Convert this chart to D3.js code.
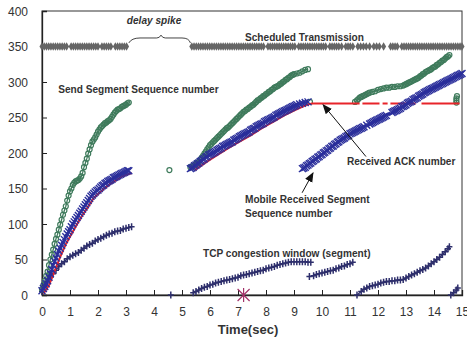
<!DOCTYPE html>
<html>
<head>
<meta charset="utf-8">
<script src="https://cdn.jsdelivr.net/npm/d3@7"></script>
<style>
  body { margin: 0; background: #fff; }
  svg { display: block; font-family: "Liberation Sans", Arial, sans-serif; }
  .axis text { font-size: 12px; fill: #333; }
  .axis path, .axis line { stroke: #222; }
  .label { font-size: 10.1px; font-weight: bold; fill: #333; }
</style>
</head>
<body>
<script>
// time (sec) of scheduled transmissions, all at level 350
const schedX = [0, 0.08, 0.16, 0.24, 0.32, 0.4, 0.48, 0.56, 0.64, 0.72, 0.8, 0.88,
  1.04, 1.12, 1.2, 1.28, 1.36, 1.44, 1.52, 1.6, 1.68, 1.76, 1.84, 1.92, 2.0,
  2.14, 2.22, 2.3, 2.38, 2.46, 2.62, 2.7, 2.78, 2.86, 2.94, 3.02,
  5.35, 5.43, 5.51, 5.59, 5.67, 5.75, 5.83, 5.91, 5.99, 6.07, 6.15, 6.23, 6.31, 6.39,
  6.47, 6.55, 6.63, 6.71, 6.79, 6.87, 6.95, 7.03, 7.11, 7.19, 7.27, 7.35, 7.43, 7.51,
  7.59, 7.67, 7.75, 7.83, 7.91, 8.07, 8.15, 8.23, 8.31, 8.39, 8.47, 8.55, 8.63,
  8.71, 8.79, 8.87, 8.95, 9.03, 9.17, 9.25, 9.33, 9.41, 9.49, 9.57, 9.65, 9.73,
  9.81, 9.89, 9.97, 10.05, 10.13, 10.28, 10.36, 10.44, 10.52, 10.6, 10.7, 10.85,
  10.93, 11.01, 11.1, 11.28, 11.38, 11.48, 11.58, 11.7, 11.85, 11.95, 12.05,
  12.2, 12.45, 12.53, 12.61, 12.69, 12.85, 12.93, 13.01, 13.09, 13.17, 13.25,
  13.33, 13.41, 13.49, 13.57, 13.65, 13.73, 13.81, 13.89, 13.97, 14.05, 14.13,
  14.21, 14.29, 14.37, 14.45, 14.53, 14.61, 14.69, 14.77, 14.85, 14.93, 15.0]
const schedLevel = 350

// Send Segment Sequence number (green circles), one array per burst
const sendSeq = [
  [[0, 8], [0.05, 14], [0.1, 20], [0.15, 27], [0.2, 33], [0.25, 42], [0.3, 50], [0.35, 57],
   [0.4, 64], [0.45, 72], [0.5, 79], [0.55, 85], [0.6, 92], [0.65, 99], [0.7, 106],
   [0.75, 113], [0.8, 119], [0.85, 125], [0.9, 133], [0.95, 140], [1.0, 146], [1.05, 150],
   [1.1, 155], [1.15, 158], [1.2, 160], [1.25, 161], [1.3, 162], [1.35, 164], [1.4, 167],
   [1.45, 172], [1.5, 180], [1.55, 186], [1.6, 192], [1.65, 199], [1.7, 205], [1.75, 211],
   [1.8, 216], [1.85, 219], [1.9, 222], [1.95, 226], [2.0, 230], [2.05, 233], [2.1, 236],
   [2.15, 238], [2.2, 240], [2.25, 242], [2.3, 243], [2.35, 245], [2.4, 246], [2.45, 248],
   [2.5, 251], [2.55, 254], [2.6, 257], [2.65, 259], [2.7, 261], [2.75, 262], [2.8, 263],
   [2.85, 265], [2.9, 266], [2.95, 267], [3.0, 268], [3.05, 270], [3.1, 271]],
  [[4.55, 176]],
  [[5.3, 180], [5.35, 181], [5.4, 182], [5.45, 183], [5.5, 185], [5.55, 186], [5.6, 188],
   [5.65, 190], [5.7, 193], [5.75, 196], [5.8, 199], [5.85, 202], [5.9, 205], [5.95, 208],
   [6.0, 211], [6.05, 213], [6.1, 215], [6.15, 217], [6.2, 219], [6.25, 221], [6.3, 223],
   [6.35, 225], [6.4, 227], [6.45, 229], [6.5, 231], [6.55, 233], [6.6, 235], [6.65, 236],
   [6.7, 238], [6.75, 240], [6.8, 242], [6.85, 244], [6.9, 246], [6.95, 248], [7.0, 250],
   [7.05, 252], [7.1, 254], [7.15, 256], [7.2, 258], [7.25, 259], [7.3, 261], [7.35, 262],
   [7.4, 264], [7.45, 265], [7.5, 267], [7.55, 268], [7.6, 270], [7.65, 272], [7.7, 274],
   [7.75, 275], [7.8, 277], [7.85, 278], [7.9, 280], [7.95, 281], [8.0, 283], [8.05, 284],
   [8.1, 286], [8.15, 287], [8.2, 289], [8.25, 290], [8.3, 292], [8.35, 293], [8.4, 294],
   [8.45, 295], [8.5, 297], [8.55, 298], [8.6, 300], [8.65, 301], [8.7, 303], [8.75, 304],
   [8.8, 306], [8.85, 307], [8.9, 309], [8.95, 310], [9.0, 311], [9.1, 312], [9.2, 313],
   [9.3, 315], [9.4, 317], [9.5, 318]],
  [[9.57, 272]],
  [[11.18, 272], [11.25, 274], [11.3, 276], [11.35, 278], [11.4, 279], [11.45, 280],
   [11.5, 281], [11.55, 282], [11.6, 283], [11.65, 284], [11.7, 285], [11.8, 286],
   [11.9, 287], [12.0, 289], [12.1, 290], [12.2, 291], [12.3, 292], [12.4, 292],
   [12.5, 293], [12.6, 293], [12.7, 294], [12.8, 294], [12.9, 295], [12.95, 296],
   [13.0, 297], [13.05, 298], [13.1, 299], [13.15, 300], [13.2, 301], [13.25, 302],
   [13.3, 303], [13.35, 304], [13.4, 305], [13.45, 306], [13.5, 308], [13.55, 309],
   [13.6, 311], [13.65, 312], [13.7, 314], [13.75, 315], [13.8, 316], [13.85, 317],
   [13.9, 318], [13.95, 320], [14.0, 321], [14.05, 322], [14.1, 324], [14.15, 325],
   [14.2, 327], [14.25, 328], [14.3, 330], [14.35, 331], [14.4, 333], [14.45, 335],
   [14.5, 336], [14.55, 338]],
  [[14.8, 271], [14.8, 274], [14.8, 277], [14.82, 280]]
]

// Mobile Received Segment Sequence number (blue crosses)
const recvSeq = [
  [[0, 6], [0.05, 9], [0.1, 12], [0.15, 16], [0.2, 20], [0.25, 25], [0.3, 30], [0.35, 36],
   [0.4, 42], [0.45, 47], [0.5, 52], [0.55, 57], [0.6, 62], [0.65, 66], [0.7, 70],
   [0.75, 74], [0.8, 78], [0.85, 82], [0.9, 86], [0.95, 89], [1.0, 92], [1.05, 96],
   [1.1, 100], [1.15, 103], [1.2, 106], [1.25, 109], [1.3, 112], [1.35, 115], [1.4, 118],
   [1.45, 121], [1.5, 124], [1.55, 127], [1.6, 130], [1.65, 133], [1.7, 136], [1.75, 139],
   [1.8, 141], [1.85, 143], [1.9, 145], [1.95, 147], [2.0, 148], [2.05, 150], [2.1, 152],
   [2.15, 154], [2.2, 155], [2.25, 157], [2.3, 158], [2.35, 160], [2.4, 161], [2.45, 162],
   [2.5, 163], [2.55, 165], [2.6, 166], [2.65, 167], [2.7, 168], [2.75, 169], [2.8, 170],
   [2.85, 171], [2.9, 172], [2.95, 173], [3.0, 174], [3.05, 175], [3.1, 175]],
  [[5.3, 178], [5.35, 179], [5.4, 180], [5.45, 182], [5.5, 183], [5.55, 185], [5.6, 186],
   [5.65, 188], [5.7, 189], [5.75, 191], [5.8, 192], [5.85, 194], [5.9, 195], [5.95, 197],
   [6.0, 198], [6.05, 199], [6.1, 200], [6.15, 201], [6.2, 202], [6.25, 204], [6.3, 205],
   [6.35, 206], [6.4, 207], [6.45, 209], [6.5, 210], [6.55, 211], [6.6, 212], [6.65, 213],
   [6.7, 214], [6.75, 215], [6.8, 216], [6.85, 218], [6.9, 219], [6.95, 220], [7.0, 221],
   [7.05, 223], [7.1, 224], [7.15, 225], [7.2, 226], [7.25, 227], [7.3, 228], [7.35, 229],
   [7.4, 230], [7.45, 232], [7.5, 233], [7.55, 234], [7.6, 235], [7.65, 237], [7.7, 238],
   [7.75, 239], [7.8, 240], [7.85, 241], [7.9, 242], [7.95, 244], [8.0, 245], [8.05, 246],
   [8.1, 247], [8.15, 248], [8.2, 249], [8.25, 250], [8.3, 251], [8.35, 253], [8.4, 254],
   [8.45, 255], [8.5, 256], [8.55, 257], [8.6, 258], [8.65, 259], [8.7, 260], [8.75, 261],
   [8.8, 262], [8.85, 263], [8.9, 264], [8.95, 265], [9.0, 266], [9.05, 267], [9.1, 268],
   [9.2, 269], [9.3, 270], [9.4, 271], [9.5, 272]],
  [[9.3, 178], [9.35, 179], [9.4, 180], [9.45, 182], [9.5, 183], [9.55, 185], [9.6, 186],
   [9.65, 188], [9.7, 189], [9.75, 191], [9.8, 192], [9.85, 194], [9.9, 195], [9.95, 197],
   [10.0, 198], [10.05, 200], [10.1, 201], [10.15, 203], [10.2, 204], [10.25, 206],
   [10.3, 207], [10.35, 209], [10.4, 210], [10.45, 212], [10.5, 213], [10.55, 215],
   [10.6, 216], [10.65, 218], [10.7, 219], [10.75, 220], [10.8, 221], [10.85, 223],
   [10.9, 224], [10.95, 225], [11.0, 227], [11.05, 228], [11.1, 229], [11.15, 230],
   [11.2, 231], [11.25, 232], [11.3, 233], [11.35, 234], [11.4, 235], [11.45, 236],
   [11.5, 237], [11.6, 239], [11.7, 241], [11.75, 242], [11.8, 243], [11.85, 244],
   [11.9, 245], [11.95, 246], [12.0, 247], [12.05, 248], [12.1, 249], [12.15, 250],
   [12.2, 251], [12.25, 252], [12.3, 253], [12.5, 257], [12.55, 258], [12.6, 259],
   [12.65, 260], [12.7, 261], [12.75, 262], [12.8, 263], [12.85, 265], [12.9, 266],
   [12.95, 267], [13.0, 268], [13.05, 270], [13.1, 271], [13.15, 272], [13.2, 273],
   [13.25, 275], [13.3, 276], [13.35, 277], [13.4, 278], [13.45, 280], [13.5, 281],
   [13.55, 282], [13.6, 283], [13.65, 285], [13.7, 286], [13.75, 287], [13.8, 288],
   [13.85, 289], [13.9, 290], [13.95, 291], [14.0, 292], [14.05, 293], [14.1, 294],
   [14.15, 295], [14.2, 296], [14.25, 297], [14.3, 298], [14.35, 299], [14.4, 300],
   [14.45, 301], [14.5, 302], [14.55, 303], [14.6, 304], [14.65, 305], [14.7, 306],
   [14.75, 307], [14.8, 308], [14.85, 309], [14.9, 310], [14.95, 311], [15.0, 312]]
]

// Received ACK number (red), null = break in the line
const ackNum = [
  [0, 4], [0.2, 16], [0.4, 36], [0.6, 56], [0.8, 74], [1.0, 88], [1.2, 102], [1.4, 115],
  [1.6, 127], [1.8, 139], [2.0, 146], [2.2, 153], [2.4, 159], [2.6, 164], [2.8, 169],
  [3.0, 172], [3.15, 174], null,
  [5.4, 178], [5.8, 189], [6.2, 199], [6.6, 209], [7.0, 218], [7.4, 227], [7.8, 237],
  [8.2, 246], [8.6, 255], [9.0, 263], [9.4, 270], [9.6, 272], [11.29, 272], null,
  [11.39, 272], [12.0, 272], null, [12.11, 272], [12.29, 272], null,
  [12.39, 272], [13.29, 272], null, [13.5, 272], [14.86, 272]
]

// TCP congestion window (segment), navy plus marks
const cwnd = [
  [[0, 5], [0.1, 12], [0.2, 19], [0.3, 25], [0.4, 30], [0.5, 35], [0.6, 40], [0.7, 44],
   [0.8, 47], [0.9, 51], [1.0, 54], [1.1, 56], [1.2, 58], [1.3, 60], [1.4, 63], [1.5, 66],
   [1.6, 69], [1.7, 71], [1.8, 73], [1.9, 76], [2.0, 78], [2.1, 80], [2.2, 82], [2.3, 84],
   [2.4, 86], [2.5, 87], [2.6, 89], [2.7, 90], [2.8, 91], [2.9, 93], [3.0, 94], [3.1, 95],
   [3.2, 96]],
  [[4.6, 0]],
  [[5.4, 3], [5.5, 5], [5.6, 7], [5.7, 9], [5.8, 11], [5.9, 12], [6.0, 14], [6.1, 15],
   [6.2, 17], [6.3, 18], [6.4, 19], [6.5, 20], [6.6, 21], [6.7, 22], [6.8, 23], [6.9, 24],
   [7.0, 25], [7.1, 27], [7.2, 28], [7.3, 29], [7.4, 30], [7.5, 31], [7.6, 32], [7.7, 33],
   [7.8, 34], [7.9, 35], [8.0, 37], [8.1, 38], [8.2, 39], [8.3, 40], [8.4, 42], [8.5, 43],
   [8.6, 44], [8.7, 45], [8.8, 46], [8.9, 47], [9.0, 47], [9.1, 47], [9.2, 47], [9.3, 47],
   [9.4, 47], [9.5, 46], [9.6, 46]],
  [[9.55, 26], [9.7, 27], [9.8, 29], [9.9, 30], [10.0, 31], [10.1, 32], [10.2, 33],
   [10.3, 34], [10.4, 35], [10.5, 37], [10.6, 38], [10.7, 40], [10.8, 41], [10.9, 43],
   [11.0, 44], [11.1, 46]],
  [[11.25, 0], [11.4, 5], [11.5, 8], [11.6, 10], [11.7, 12], [11.8, 13], [11.9, 14],
   [12.0, 15], [12.1, 17], [12.2, 18], [12.3, 19], [12.4, 19], [12.5, 20], [12.6, 20],
   [12.7, 21], [12.8, 21], [12.9, 22], [13.0, 24], [13.1, 26], [13.2, 28], [13.3, 30],
   [13.4, 32], [13.5, 34], [13.6, 36], [13.7, 38], [13.8, 41], [13.9, 44], [14.0, 47],
   [14.1, 50], [14.2, 53], [14.3, 57], [14.4, 61], [14.5, 65], [14.55, 68]],
  [[14.6, 0], [14.7, 3], [14.8, 7], [14.85, 10]]
]

const lossMark = [[7.2, 0]]

const xTicks = d3.range(0, 16)
const yTicks = [0, 50, 100, 150, 200, 250, 300, 350, 400]

const width = 467
const height = 339
const margin = { top: 11, right: 5, bottom: 44, left: 42 }

const svg = d3.select('body').append('svg')
  .attr('width', width)
  .attr('height', height)

const x = d3.scaleLinear().domain([0, 15]).range([margin.left, width - margin.right])
const y = d3.scaleLinear().domain([0, 400]).range([height - margin.bottom, margin.top])

// frame
svg.append('rect')
  .attr('x', x(0)).attr('y', y(400))
  .attr('width', x(15) - x(0)).attr('height', y(0) - y(400))
  .attr('fill', 'none').attr('stroke', '#333').attr('stroke-width', 1)

svg.append('g')
  .attr('class', 'axis x')
  .attr('transform', 'translate(0,' + y(0) + ')')
  .call(d3.axisBottom(x).tickValues(xTicks).tickSize(-5).tickPadding(12).tickFormat(d3.format('d')))
  .call(g => g.select('.domain').attr('stroke-width', 1.3))

svg.append('g')
  .attr('class', 'axis y')
  .attr('transform', 'translate(' + x(0) + ',0)')
  .call(d3.axisLeft(y).tickValues(yTicks).tickSize(-5).tickPadding(14))
  .call(g => g.select('.domain').attr('stroke-width', 1.3))
  .call(g => g.selectAll('.tick text').attr('dy', '0.36em'))

svg.append('text')
  .attr('x', 248).attr('y', 334)
  .attr('text-anchor', 'middle')
  .style('font-size', '13px').style('font-weight', 'bold').style('fill', '#333')
  .text('Time(sec)')

const plot = svg.append('g')

// scheduled transmission diamonds
const diamond = d3.symbol().type(d3.symbolDiamond).size(22)
plot.append('g').selectAll('path')
  .data(schedX)
  .join('path')
  .attr('d', diamond)
  .attr('transform', d => 'translate(' + x(d) + ',' + y(schedLevel) + ')')
  .attr('fill', '#666')

const line = d3.line()
  .defined(d => d !== null)
  .x(d => x(d[0]))
  .y(d => y(d[1]))

// congestion window
const cwndColor = '#2e2f6c'
cwnd.forEach(seg => {
  plot.append('path').attr('d', line(seg))
    .attr('fill', 'none').attr('stroke', cwndColor).attr('stroke-width', 1.3)
  plot.append('g').selectAll('path')
    .data(seg)
    .join('path')
    .attr('d', 'M-3,0H3M0,-3.5V3.5')
    .attr('transform', d => 'translate(' + x(d[0]) + ',' + y(d[1]) + ')')
    .attr('stroke', cwndColor).attr('stroke-width', 1.5)
})

// send segment sequence number
const sendColor = '#3f7b5c'
sendSeq.forEach(seg => {
  plot.append('path').attr('d', line(seg))
    .attr('fill', 'none').attr('stroke', sendColor).attr('stroke-width', 1.3)
  plot.append('g').selectAll('circle')
    .data(seg)
    .join('circle')
    .attr('cx', d => x(d[0]))
    .attr('cy', d => y(d[1]))
    .attr('r', 2.5)
    .attr('fill', 'none')
    .attr('stroke', sendColor)
    .attr('stroke-width', 1.2)
})

// received ACK number (mostly hidden under the blue crosses)
plot.append('path').attr('d', line(ackNum))
  .attr('fill', 'none').attr('stroke', '#e8242a').attr('stroke-width', 2)
  .attr('transform', 'translate(1.5,1.5)')

// mobile received segment sequence number
const recvColor = '#2b2f9b'
recvSeq.forEach(seg => {
  plot.append('path').attr('d', line(seg))
    .attr('fill', 'none').attr('stroke', recvColor).attr('stroke-width', 2)
  plot.append('g').selectAll('path')
    .data(seg)
    .join('path')
    .attr('d', 'M-3.5,-3.5L3.5,3.5M-3.5,3.5L3.5,-3.5')
    .attr('transform', d => 'translate(' + x(d[0]) + ',' + y(d[1]) + ')')
    .attr('stroke', recvColor).attr('stroke-width', 1.4)
})

// loss marker
plot.selectAll('.loss')
  .data(lossMark)
  .join('path')
  .attr('class', 'loss')
  .attr('d', 'M-6,-6L6,6M-6,6L6,-6M0,-7V7')
  .attr('transform', d => 'translate(' + x(d[0]) + ',' + y(d[1]) + ')')
  .attr('stroke', '#a3336a').attr('stroke-width', 1.2)

// annotations
svg.append('defs').append('marker')
  .attr('id', 'arrow')
  .attr('viewBox', '0 0 10 10')
  .attr('refX', 9).attr('refY', 5)
  .attr('markerWidth', 10).attr('markerHeight', 10)
  .attr('markerUnits', 'userSpaceOnUse')
  .attr('orient', 'auto')
  .append('path').attr('d', 'M0,1L10,5L0,9Z').attr('fill', '#111')

const arrows = [
  [[11.57, 195], [10.04, 268]],
  [[9.29, 144], [9.68, 172]]
]
svg.append('g').selectAll('line')
  .data(arrows)
  .join('line')
  .attr('x1', d => x(d[0][0])).attr('y1', d => y(d[0][1]))
  .attr('x2', d => x(d[1][0])).attr('y2', d => y(d[1][1]))
  .attr('stroke', '#111').attr('stroke-width', 1)
  .attr('marker-end', 'url(#arrow)')

const labels = [
  { t: 'Scheduled Transmission', x: 7.25, y: 358 },
  { t: 'Send Segment Sequence number', x: 0.58, y: 284 },
  { t: 'Received ACK number', x: 10.89, y: 183 },
  { t: 'Mobile Received Segment', x: 7.25, y: 129 },
  { t: 'Sequence number', x: 7.25, y: 110 },
  { t: 'TCP congestion window (segment)', x: 5.75, y: 53 }
]
svg.append('g').selectAll('text')
  .data(labels)
  .join('text')
  .attr('class', 'label')
  .attr('x', d => x(d.x))
  .attr('y', d => y(d.y))
  .text(d => d.t)

svg.append('text')
  .attr('class', 'label')
  .attr('x', x(3.03)).attr('y', y(382))
  .style('font-style', 'italic')
  .text('delay spike')

// brace over the delay spike
svg.append('path')
  .attr('d', 'M' + x(3.1) + ',' + y(355) +
    'Q' + x(3.2) + ',' + y(362) + ' ' + x(3.5) + ',' + y(362) +
    'L' + x(4.1) + ',' + y(362) +
    'Q' + x(4.2) + ',' + y(362) + ' ' + x(4.25) + ',' + y(366) +
    'Q' + x(4.3) + ',' + y(362) + ' ' + x(4.4) + ',' + y(362) +
    'L' + x(5.0) + ',' + y(362) +
    'Q' + x(5.25) + ',' + y(362) + ' ' + x(5.3) + ',' + y(355))
  .attr('fill', 'none').attr('stroke', '#444').attr('stroke-width', 1)
</script>
</body>
</html>
